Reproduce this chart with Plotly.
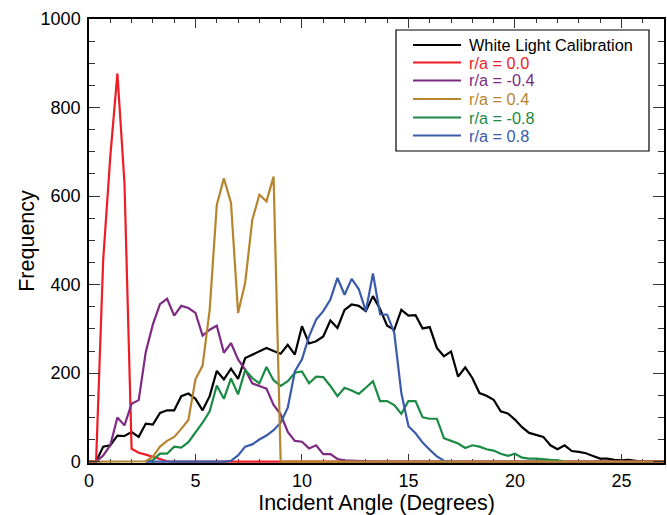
import plotly.graph_objects as go

# Histogram bins: 1/3 degree wide, bin index k -> angle k/3
BIN_WIDTH = 1.0 / 3.0

labels = ["White Light Calibration", "r/a = 0.0", "r/a = -0.4", "r/a = 0.4", "r/a = -0.8", "r/a = 0.8"]
colors = ["#000000", "#ee1c25", "#7d2a82", "#b5852f", "#1b8a44", "#3a5aab"]

# start bin index of each series
start_white, start_r00, start_rm04, start_r04, start_rm08, start_r08 = 0, 0, 0, 0, 8, 8

white = [0, 0, 34, 37, 59, 58, 67, 56, 86, 84, 110, 116, 116, 148, 154, 142, 116, 148, 205, 186,
         210, 187, 234, 242, 250, 257, 250, 244, 264, 242, 306, 267, 272, 283, 319, 302, 343, 355,
         352, 340, 374, 345, 307, 298, 343, 330, 331, 301, 304, 257, 238, 249, 192, 213, 189, 155,
         149, 140, 114, 109, 95, 78, 65, 60, 56, 37, 28, 37, 24, 22, 19, 13, 7, 7, 4, 3, 4, 2,
         0, 0, 0, 0]
r00 = [0, 0, 456, 689, 877, 629, 29, 20, 16, 11, 5, 1] + [0] * 70
rm04 = [0, 0, 14, 37, 100, 82, 131, 139, 248, 310, 356, 368, 330, 352, 347, 336, 285, 298, 307,
        246, 268, 231, 208, 177, 171, 165, 128, 107, 67, 47, 45, 30, 37, 17, 17, 6, 3, 2, 1] + [0] * 43
r04 = [0, 0, 0, 0, 0, 0, 0, 0, 1, 11, 34, 47, 56, 74, 94, 186, 217, 343, 580, 640, 585, 336, 404,
       546, 603, 588, 644] + [0] * 55
rm08 = [0, 3, 18, 18, 34, 32, 44, 65, 88, 114, 172, 142, 188, 152, 207, 189, 177, 214, 184, 171,
        182, 201, 204, 177, 192, 191, 171, 148, 167, 161, 153, 167, 182, 137, 137, 128, 108, 137,
        137, 100, 97, 97, 53, 47, 41, 31, 37, 34, 28, 25, 18, 13, 18, 9, 7, 7, 5, 4, 3, 0]
r08 = [0] * 12 + [2, 14, 34, 39, 50, 59, 71, 88, 122, 204, 231, 283, 321, 340, 366, 415, 377, 413,
                  390, 340, 425, 333, 332, 291, 155, 80, 64, 43, 27, 12, 2, 0]

series = {
    "white": (start_white, white, 0),
    "r00": (start_r00, r00, 1),
    "rm04": (start_rm04, rm04, 2),
    "rm08": (start_rm08, rm08, 4),
    "r08": (start_r08, r08, 5),
    "r04": (start_r04, r04, 3),
}

fig = go.Figure()
for key, (start, vals, ci) in series.items():
    xs = [(start + i) * BIN_WIDTH for i in range(len(vals))]
    fig.add_trace(go.Scatter(x=xs, y=vals, mode="lines", name=labels[ci],
                             line=dict(color=colors[ci], width=2.2), showlegend=False,
                             hoverinfo="skip"))

W, H = 667, 515
ML, MR, MT, MB = 89, 3, 19, 52
PW, PH = W - ML - MR, H - MT - MB


def px(xp):
    return (xp - ML) / PW


def py(yp):
    return (H - MB - yp) / PH


font = "Liberation Sans, Arial, Helvetica, sans-serif"

# manual legend box
fig.add_shape(type="rect", xref="paper", yref="paper", x0=px(396), x1=px(649), y0=py(151), y1=py(30),
              line=dict(color="black", width=1.2), fillcolor="white", layer="above")
row_y = [45, 62.5, 80.5, 99, 117.5, 135.5]
for i, lab in enumerate(labels):
    fig.add_shape(type="line", xref="paper", yref="paper", x0=px(413), x1=px(461),
                  y0=py(row_y[i]), y1=py(row_y[i]), line=dict(color=colors[i], width=2.2),
                  layer="above")
    fig.add_annotation(xref="paper", yref="paper", x=px(468), y=py(row_y[i]), text=lab,
                       showarrow=False, xanchor="left", yanchor="middle", borderpad=0,
                       font=dict(family=font, size=16.3, color=colors[i]))

axis_common = dict(showline=True, linecolor="black", linewidth=1.5, mirror="ticks",
                   ticks="inside", tickcolor="#333", showgrid=False, zeroline=False,
                   tickfont=dict(family=font, size=18, color="black"))

fig.update_xaxes(range=[0, 27], tick0=0, dtick=5, ticklen=9, tickwidth=1.2,
                 minor=dict(dtick=1, ticklen=4.5, ticks="inside", tickcolor="#333", tickwidth=1),
                 title=dict(text="Incident Angle (Degrees)", font=dict(family=font, size=21.5, color="black"),
                            standoff=1),
                 ticklabelstandoff=1, layer="below traces", **axis_common)
fig.update_yaxes(range=[-3, 1000], tick0=0, dtick=200, ticklen=11.5, tickwidth=1.2,
                 minor=dict(dtick=50, ticklen=6, ticks="inside", tickcolor="#333", tickwidth=1),
                 title=dict(text="Frequency", font=dict(family=font, size=21.5, color="black"),
                            standoff=0),
                 ticklabelstandoff=3, **axis_common)

fig.update_layout(width=W, height=H, margin=dict(l=ML, r=MR, t=MT, b=MB, autoexpand=False),
                  plot_bgcolor="white", paper_bgcolor="white", showlegend=False)

fig.write_html("out.html")
